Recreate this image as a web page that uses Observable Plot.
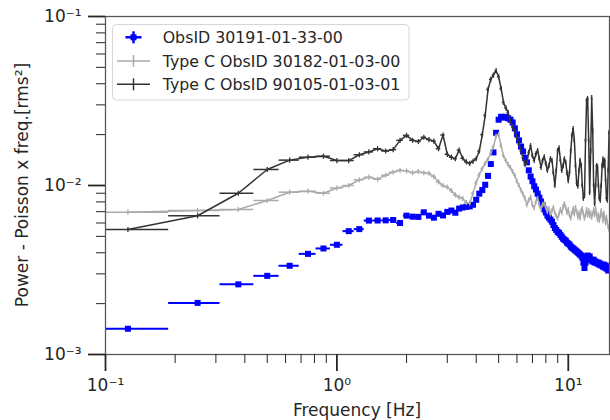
<!DOCTYPE html>
<html><head><meta charset="utf-8">
<script src="https://cdn.jsdelivr.net/npm/d3@7"></script>
<script src="https://cdn.jsdelivr.net/npm/@observablehq/plot@0.6"></script>
<style>body{margin:0;background:#fff;} svg{display:block;}</style>
</head><body><div id="chart"></div>
<script>
const freq = [0.125,0.25,0.375,0.5,0.625,0.75,0.875,1,1.125,1.25,1.375,1.5,1.625,1.75,1.875,2,2.125,2.25,2.375,2.5,2.625,2.75,2.875,3,3.125,3.25,3.375,3.5,3.625,3.75,3.875,4,4.125,4.25,4.375,4.5,4.625,4.75,4.875,5,5.125,5.25,5.375,5.5,5.625,5.75,5.875,6,6.125,6.25,6.375,6.5,6.625,6.75,6.875,7,7.125,7.25,7.375,7.5,7.625,7.75,7.875,8,8.125,8.25,8.375,8.5,8.625,8.75,8.875,9,9.125,9.25,9.375,9.5,9.625,9.75,9.875,10,10.125,10.25,10.375,10.5,10.625,10.75,10.875,11,11.125,11.25,11.375,11.5,11.625,11.75,11.875,12,12.125,12.25,12.375,12.5,12.625,12.75,12.875,13,13.125,13.25,13.375,13.5,13.625,13.75,13.875,14,14.125,14.25,14.375,14.5,14.625,14.75,14.875,15];

const obs30191 = [
0.00142,0.00202,0.00260,0.00292,0.00335,0.00394,0.00424,0.00446,
0.00537,0.00552,0.00620,0.00621,0.00622,0.00625,0.00600,0.00663,
0.00654,0.00652,0.00694,0.00663,0.00645,0.00680,0.00665,0.00698,
0.00711,0.00690,0.00730,0.00741,0.00748,0.00752,0.00769,0.00823,
0.00895,0.00940,0.01010,0.01140,0.01340,0.01570,0.02050,0.02450,
0.02550,0.02520,0.02550,0.02500,0.02450,0.02360,0.02180,0.02010,
0.01850,0.01700,0.01590,0.01460,0.01370,0.01230,0.01130,0.01060,
0.00990,0.00946,0.00895,0.00848,0.00804,0.00763,0.00722,0.00692,
0.00663,0.00645,0.00628,0.00611,0.00584,0.00560,0.00546,0.00531,
0.00524,0.00510,0.00497,0.00484,0.00478,0.00471,0.00459,0.00453,
0.00447,0.00435,0.00429,0.00424,0.00418,0.00412,0.00407,0.00401,
0.00396,0.00390,0.00385,0.00374,0.00350,0.00325,0.00350,0.00380,
0.00385,0.00374,0.00380,0.00364,0.00360,0.00355,0.00364,0.00350,
0.00355,0.00350,0.00345,0.00350,0.00340,0.00345,0.00336,0.00340,
0.00331,0.00340,0.00327,0.00336,0.00322,0.00331,0.00314,0.00318];

const obs30182 = [
0.00695,0.00711,0.00721,0.00815,0.00913,0.00925,0.00900,0.00967,
0.01000,0.01080,0.01120,0.01090,0.01150,0.01200,0.01230,0.01220,
0.01190,0.01210,0.01190,0.01180,0.01130,0.01050,0.01000,0.00980,
0.00934,0.00880,0.00852,0.00838,0.00793,0.00785,0.00900,0.01040,
0.01160,0.01260,0.01350,0.01430,0.01550,0.01700,0.01960,0.02000,
0.01720,0.01500,0.01410,0.01330,0.01280,0.01210,0.01150,0.01060,
0.01000,0.00940,0.00890,0.00840,0.00770,0.00820,0.00850,0.00770,
0.00740,0.00800,0.00840,0.00770,0.00730,0.00770,0.00780,0.00740,
0.00700,0.00730,0.00680,0.00710,0.00740,0.00690,0.00660,0.00640,
0.00680,0.00720,0.00690,0.00750,0.00780,0.00740,0.00690,0.00720,
0.00670,0.00640,0.00690,0.00730,0.00680,0.00740,0.00700,0.00650,
0.00690,0.00640,0.00710,0.00730,0.00680,0.00640,0.00670,0.00720,
0.00670,0.00710,0.00660,0.00690,0.00650,0.00680,0.00720,0.00670,
0.00730,0.00680,0.00630,0.00670,0.00620,0.00660,0.00710,0.00670,
0.00620,0.00690,0.00640,0.00600,0.00650,0.00610,0.00570,0.00550];

const obs90105 = [
0.00549,0.00662,0.00900,0.01244,0.01413,0.01471,0.01491,0.01405,
0.01405,0.01520,0.01580,0.01650,0.01600,0.01630,0.01850,0.01980,
0.01850,0.01820,0.01930,0.01870,0.01830,0.01650,0.01990,0.01530,
0.01470,0.01440,0.01620,0.01450,0.01380,0.01350,0.01390,0.01440,
0.01600,0.02000,0.02600,0.03700,0.04250,0.04500,0.04780,0.04400,
0.03750,0.03100,0.02880,0.02700,0.02400,0.02220,0.02100,0.01920,
0.01750,0.01600,0.01450,0.01330,0.01370,0.01570,0.01720,0.01500,
0.01410,0.01540,0.01610,0.01440,0.01280,0.01410,0.01480,0.01350,
0.01230,0.01310,0.01440,0.01410,0.01190,0.01000,0.01230,0.01610,
0.01670,0.01410,0.01230,0.01310,0.01440,0.01370,0.01190,0.01070,
0.01190,0.01610,0.01980,0.02170,0.01850,0.01310,0.01030,0.00990,
0.01230,0.01410,0.01310,0.01000,0.00840,0.00870,0.01850,0.03190,
0.03270,0.01850,0.00910,0.01610,0.03310,0.02110,0.01000,0.00780,
0.01000,0.01310,0.01290,0.01000,0.00840,0.00820,0.01000,0.01310,
0.01440,0.01310,0.01410,0.01070,0.00840,0.00820,0.01230,0.02060];

const binHalfWidth = 0.0625;
const seriesNames = ["ObsID 30191-01-33-00", "Type C ObsID 30182-01-03-00", "Type C ObsID 90105-01-03-01"];
const xMajor = [0.1, 1, 10];
const xMinor = [0.2,0.3,0.4,0.5,0.6,0.7,0.8,0.9,2,3,4,5,6,7,8,9];
const yMajor = [0.001, 0.01, 0.1];
const yMinor = [0.002,0.003,0.004,0.005,0.006,0.007,0.008,0.009,0.02,0.03,0.04,0.05,0.06,0.07,0.08,0.09];
const xLabel = "Frequency [Hz]";
const yLabel = "Power - Poisson x freq.[rms²]";

const BLUE = "#0000ff", GRAY = "#ababab", BLACK = "#333333", INK = "#262626";
const supMap = {"-":"⁻","0":"⁰","1":"¹","2":"²","3":"³"};
const fmtPow = d => "10" + String(Math.round(Math.log10(d))).split("").map(c => supMap[c]).join("");
const rows = ys => freq.map((f, i) => ({f, y: ys[i]}));
const blue = rows(obs30191), gray = rows(obs30182), black = rows(obs90105);
const vbar = {draw(ctx, size) { const r = Math.sqrt(size / Math.PI); ctx.moveTo(0, -r); ctx.lineTo(0, r); }};

function seriesMarks(data, color) {
  return [
    Plot.line(data, {x: "f", y: "y", stroke: color, strokeWidth: 1.5, clip: true}),
    Plot.ruleY(data, {y: "y", x1: d => d.f - binHalfWidth, x2: d => d.f + binHalfWidth, stroke: color, strokeWidth: 1.5, clip: true}),
    Plot.dot(data, {x: "f", y: "y", symbol: vbar, r: 2.6, fill: "none", stroke: color, strokeWidth: 1.3, clip: true})
  ];
}

const plot = Plot.plot({
  width: 610, height: 420,
  marginLeft: 105, marginRight: 1, marginTop: 16, marginBottom: 66,
  style: {fontFamily: "DejaVu Sans", fontSize: "17px", color: INK, background: "white"},
  x: {type: "log", domain: [0.1, 15.07], label: null},
  y: {type: "log", domain: [0.001, 0.1], label: null},
  marks: [
    Plot.ruleY(blue, {y: "y", x1: d => d.f - binHalfWidth, x2: d => d.f + binHalfWidth, stroke: BLUE, strokeWidth: 2, clip: true}),
    Plot.dot(blue, {x: "f", y: "y", symbol: "square", r: 3.4, fill: BLUE, clip: true}),
    ...seriesMarks(gray, GRAY),
    ...seriesMarks(black, BLACK),
    Plot.frame({stroke: "#555", strokeWidth: 1.25}),
    Plot.axisX(xMinor, {tickSize: 9, strokeWidth: 1, tickFormat: () => "", label: null}),
    Plot.axisX(xMajor, {tickSize: 17, strokeWidth: 1.8, tickPadding: 7, tickFormat: fmtPow, label: null, fontSize: 17}),
    Plot.axisY(yMinor, {tickSize: 9, strokeWidth: 1, tickFormat: () => "", label: null}),
    Plot.axisY(yMajor, {tickSize: 17, strokeWidth: 1.8, tickPadding: 7, tickFormat: fmtPow, label: null, fontSize: 17})
  ]
});

const svg = d3.select(plot);
svg.append("text").attr("x", 357).attr("y", 416).attr("text-anchor", "middle")
  .attr("font-family", "DejaVu Sans").attr("font-size", 17).attr("fill", INK).text(xLabel);
svg.append("text").attr("transform", "translate(28,185) rotate(-90)").attr("text-anchor", "middle")
  .attr("font-family", "DejaVu Sans").attr("font-size", 17).attr("fill", INK).text(yLabel);

const lg = svg.append("g").attr("font-family", "DejaVu Sans").attr("font-size", 15.8).attr("fill", INK).attr("text-anchor", "start");
lg.append("rect").attr("x", 112.5).attr("y", 24.5).attr("width", 296.5).attr("height", 75.5).attr("rx", 4)
  .attr("fill", "white").attr("fill-opacity", 0.85).attr("stroke", "#d6d6d6");
const rowY = [37.3, 61, 84.3];
const hc = 133.5;
lg.append("line").attr("x1", hc - 8).attr("x2", hc + 8).attr("y1", rowY[0]).attr("y2", rowY[0]).attr("stroke", BLUE).attr("stroke-width", 2.5);
lg.append("line").attr("x1", hc).attr("x2", hc).attr("y1", rowY[0] - 6).attr("y2", rowY[0] + 6).attr("stroke", BLUE).attr("stroke-width", 2.5);
lg.append("rect").attr("x", hc - 3).attr("y", rowY[0] - 3).attr("width", 6).attr("height", 6).attr("fill", BLUE);
[[GRAY, rowY[1]], [BLACK, rowY[2]]].forEach(([c, y]) => {
  lg.append("line").attr("x1", 117).attr("x2", 150).attr("y1", y).attr("y2", y).attr("stroke", c).attr("stroke-width", 1.5);
  lg.append("line").attr("x1", hc).attr("x2", hc).attr("y1", y - 6).attr("y2", y + 6).attr("stroke", c).attr("stroke-width", 1.5);
});
seriesNames.forEach((s, i) => {
  lg.append("text").attr("x", 162.7).attr("y", rowY[i]).attr("dy", "0.36em").attr("text-anchor", "start").text(s);
});

document.getElementById("chart").appendChild(plot);
</script>
</body></html>
